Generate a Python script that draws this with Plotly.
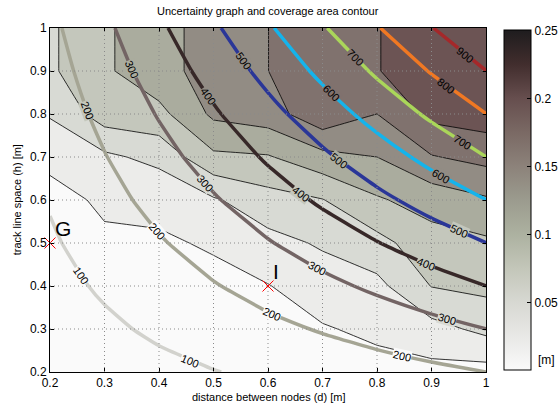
import math
import numpy as np
import plotly.graph_objects as go

# grid axes
d_vals = [0.2, 0.3, 0.4, 0.5, 0.6, 0.7, 0.8, 0.9, 1.0]
h_vals = [0.2, 0.3, 0.4, 0.5, 0.6, 0.7, 0.8, 0.9, 1.0]

# uncertainty [m]; one row per h value, columns follow d_vals
unc_h020 = [0.002, 0.004, 0.005, 0.007, 0.010, 0.015, 0.0168, 0.0176, 0.0157]
unc_h030 = [0.004, 0.007, 0.009, 0.011, 0.015, 0.0231, 0.030, 0.0414, 0.0564]
unc_h040 = [0.007, 0.012, 0.014, 0.020, 0.0241, 0.0375, 0.0432, 0.0758, 0.0814]
unc_h050 = [0.011, 0.020, 0.0225, 0.027, 0.042, 0.0529, 0.0671, 0.0899, 0.0957]
unc_h060 = [0.0144, 0.030, 0.030, 0.047, 0.0653, 0.074, 0.0972, 0.1103, 0.1219]
unc_h070 = [0.033, 0.0448, 0.0575, 0.095, 0.098, 0.1167, 0.125, 0.1484, 0.1579]
unc_h080 = [0.052, 0.0879, 0.0925, 0.1299, 0.1379, 0.169, 0.1499, 0.1824, 0.188]
unc_h090 = [0.071, 0.0959, 0.1175, 0.1338, 0.1499, 0.160, 0.1745, 0.1816, 0.190]
unc_h100 = [0.071, 0.0959, 0.1175, 0.1338, 0.1499, 0.160, 0.1745, 0.1816, 0.190]
uncertainty = [unc_h020, unc_h030, unc_h040, unc_h050, unc_h060,
               unc_h070, unc_h080, unc_h090, unc_h100]

# coverage area; one row per h value, columns follow d_vals
cov_h020 = [35.5, 56.1, 76.6, 97.1, 117.7, 138.2, 158.7, 179.3, 199.8]
cov_h030 = [53.3, 84.1, 114.9, 145.7, 176.5, 207.3, 238.1, 268.9, 299.7]
cov_h040 = [71.0, 112.1, 153.2, 194.2, 235.3, 276.4, 317.4, 358.5, 399.6]
cov_h050 = [88.8, 140.2, 191.5, 242.8, 294.2, 345.5, 396.8, 448.2, 499.5]
cov_h060 = [106.6, 168.2, 229.8, 291.4, 353.0, 414.6, 476.2, 537.8, 599.4]
cov_h070 = [124.3, 196.2, 268.1, 339.9, 411.8, 483.7, 555.5, 627.4, 699.3]
cov_h080 = [142.1, 224.2, 306.4, 388.5, 470.6, 552.8, 634.9, 717.0, 799.2]
cov_h090 = [159.8, 252.3, 344.7, 437.0, 529.5, 621.9, 714.2, 806.7, 899.1]
cov_h100 = [177.6, 280.3, 383.0, 485.6, 588.3, 691.0, 793.6, 896.3, 999.0]
coverage = [cov_h020, cov_h030, cov_h040, cov_h050, cov_h060,
            cov_h070, cov_h080, cov_h090, cov_h100]

# contour levels
unc_levels = [0.025, 0.05, 0.075, 0.1, 0.125, 0.15, 0.175]
cov_levels = [100, 200, 300, 400, 500, 600, 700, 800, 900]

# where the coverage labels sit: level and d position
label_level = [100, 100, 200, 200, 200, 200, 300, 300, 300, 300, 400, 400, 400,
               500, 500, 500, 600, 600, 700, 700, 800, 900]
label_d = [0.256, 0.457, 0.268, 0.396, 0.607, 0.846, 0.35, 0.484, 0.689, 0.929,
           0.49, 0.661, 0.89, 0.555, 0.731, 0.95, 0.716, 0.917, 0.759, 0.956,
           0.927, 0.962]

# marked points
pt_names = ["G", "I"]
pt_d = [0.2, 0.6]
pt_h = [0.5, 0.4]

tick_vals = [0.2, 0.3, 0.4, 0.5, 0.6, 0.7, 0.8, 0.9, 1.0]
tick_text = ["0.2", "0.3", "0.4", "0.5", "0.6", "0.7", "0.8", "0.9", "1"]
cb_vals = [0.05, 0.1, 0.15, 0.2, 0.25]
cb_text = ["0.05", "0.1", "0.15", "0.2", "0.25"]

# styling
FONT = "Liberation Sans, Arial, sans-serif"
band_colors = ["#fafafa", "#ececea", "#d8dad4", "#c4c7bc", "#aaac9e",
               "#928c84", "#80726e", "#6c5454"]
cov_colors = ["#d2d2cd", "#a5a594", "#736464", "#372828", "#2a3698",
              "#14b4ec", "#aad65a", "#f07823", "#a5282a"]
cmap = [[0.0, "#fafafa"], [0.1, "#e8e8e6"], [0.2, "#d7d8d2"], [0.3, "#c3c6b9"],
        [0.4, "#acb1a0"], [0.5, "#9b9b8e"], [0.6, "#8c827a"], [0.7, "#7a6964"],
        [0.8, "#664e4e"], [0.9, "#412d2d"], [1.0, "#1e1c1e"]]
PX_X = 436.0 / 0.8   # pixels per unit d
PX_Y = 344.0 / 0.8   # pixels per unit h

nb = len(band_colors)
fill_scale = [[i / (nb - 1), c] for i, c in enumerate(band_colors)]
nc = len(cov_colors)
cov_scale = [[i / (nc - 1), c] for i, c in enumerate(cov_colors)]


def bilinear(grid, d, h):
    col = [np.interp(d, d_vals, row) for row in grid]
    return float(np.interp(h, h_vals, col))


fig = go.Figure()

fig.add_trace(go.Contour(
    x=d_vals, y=h_vals, z=uncertainty,
    contours=dict(start=unc_levels[0], end=unc_levels[-1],
                  size=unc_levels[1] - unc_levels[0], coloring="fill"),
    colorscale=fill_scale, showscale=False,
    line=dict(color="black", width=0.8, smoothing=0),
    hoverinfo="skip",
))

fig.add_trace(go.Contour(
    x=d_vals, y=h_vals, z=coverage,
    contours=dict(start=cov_levels[0], end=cov_levels[-1],
                  size=cov_levels[1] - cov_levels[0], coloring="lines",
                  showlabels=False),
    colorscale=cov_scale, showscale=False,
    line=dict(width=3.5, smoothing=0.5),
    hoverinfo="skip",
))

# invisible carrier for the continuous colorbar
fig.add_trace(go.Scatter(
    x=[0.6], y=[0.6], mode="markers",
    marker=dict(size=0.1, opacity=0, color=[0.1], cmin=0, cmax=0.25,
                colorscale=cmap, showscale=True,
                colorbar=dict(thickness=27, lenmode="pixels", len=340,
                              x=1.0424, xanchor="left", xpad=0,
                              y=0.993, yanchor="top", ypad=0,
                              outlinewidth=1, outlinecolor="black",
                              tickvals=cb_vals, ticktext=cb_text,
                              ticks="inside", ticklen=4, tickcolor="black",
                              tickfont=dict(family=FONT, size=12, color="black"))),
    hoverinfo="skip", showlegend=False,
))

fig.add_trace(go.Scatter(
    x=pt_d, y=pt_h, mode="markers",
    marker=dict(symbol="x-thin-open", size=11, color="red",
                line=dict(color="red", width=1)),
    hoverinfo="skip", showlegend=False, cliponaxis=False,
))

annos = []

# coverage contour labels, placed on their lines and turned along them
for lev, dd in zip(label_level, label_d):
    col = [np.interp(dd, d_vals, row) for row in coverage]
    hh = float(np.interp(lev, col, h_vals))
    e = 1e-3
    cd = (bilinear(coverage, dd + e, hh) - bilinear(coverage, dd - e, hh)) / (2 * e)
    ch = (bilinear(coverage, dd, hh + e) - bilinear(coverage, dd, hh - e)) / (2 * e)
    sx, sy = ch * PX_X, cd * PX_Y          # tangent in screen pixels (y down)
    ang = math.degrees(math.atan2(sy, sx))
    if ang > 90:
        ang -= 180
    if ang < -90:
        ang += 180
    u = bilinear(uncertainty, dd, hh)
    k = sum(1 for L in unc_levels if u >= L)
    annos.append(dict(x=dd, y=hh, xref="x", yref="y", text=str(lev), showarrow=False,
                      textangle=ang, xanchor="center", yanchor="middle",
                      bgcolor=band_colors[k], borderpad=0,
                      font=dict(family=FONT, size=11, color="black")))

for name, dd, hh in zip(pt_names, pt_d, pt_h):
    annos.append(dict(x=dd, y=hh, xref="x", yref="y", text=name, showarrow=False,
                      xanchor="left", yanchor="bottom", xshift=3, yshift=1,
                      font=dict(family=FONT, size=21, color="black")))

annos += [
    dict(x=0.5, y=1.0485, xref="paper", yref="paper", showarrow=False,
         xanchor="center", yanchor="middle",
         text="Uncertainty graph and coverage area contour",
         font=dict(family=FONT, size=11, color="black")),
    dict(x=0.5, y=-0.0735, xref="paper", yref="paper", showarrow=False,
         xanchor="center", yanchor="middle",
         text="distance between nodes (d) [m]",
         font=dict(family=FONT, size=11, color="black")),
    dict(x=-0.0749, y=0.5, xref="paper", yref="paper", showarrow=False, textangle=-90,
         xanchor="center", yanchor="middle",
         text="track line space (h) [m]",
         font=dict(family=FONT, size=11, color="black")),
    dict(x=1.0424 + 27 / 436.8 + 0.01, y=0.036, xref="paper", yref="paper", showarrow=False,
         xanchor="left", yanchor="middle", text="[m]",
         font=dict(family=FONT, size=12, color="black")),
]

shapes = []
for t in tick_vals[1:-1]:
    shapes.append(dict(type="line", xref="x", yref="paper", x0=t, x1=t, y0=0, y1=1,
                       line=dict(color="#8a8a8a", width=1, dash="1px,3px"), layer="above"))
    shapes.append(dict(type="line", xref="paper", yref="y", x0=0, x1=1, y0=t, y1=t,
                       line=dict(color="#8a8a8a", width=1, dash="1px,3px"), layer="above"))

axis_common = dict(range=[0.2, 1.0], tickvals=tick_vals, ticktext=tick_text,
                   showgrid=False, zeroline=False, showline=True, linecolor="black",
                   linewidth=1, mirror="ticks", ticks="inside", ticklen=4,
                   tickcolor="black", tickfont=dict(family=FONT, size=12, color="black"),
                   layer="above traces")

fig.update_layout(
    width=560, height=409,
    margin=dict(l=50, r=74, t=28, b=37, autoexpand=False),
    paper_bgcolor="white", plot_bgcolor="white",
    xaxis=dict(axis_common),
    yaxis=dict(axis_common),
    annotations=annos, shapes=shapes,
    showlegend=False,
)

fig.write_html("out.html")
